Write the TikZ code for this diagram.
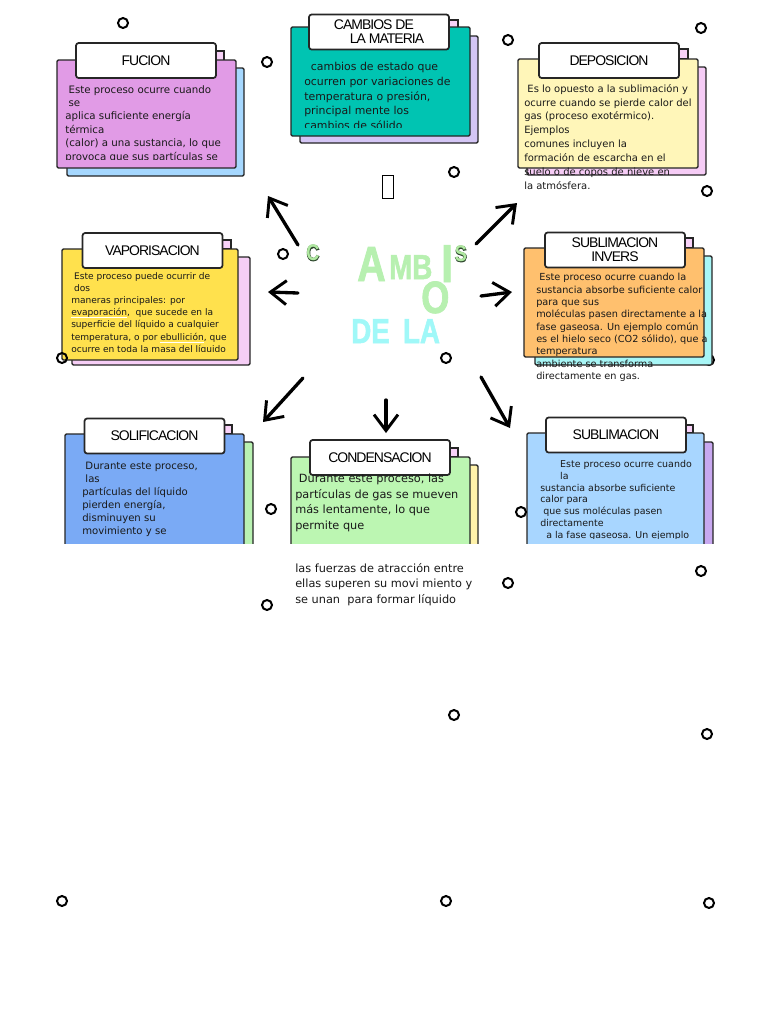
\documentclass[tikz,border=0pt]{standalone}
\usepackage{fontspec}
\usepackage{tikz}
\usetikzlibrary{arrows.meta}
\setmainfont{DejaVu Sans}
\newfontfamily\cardtitlefont{Liberation Sans}[LetterSpace=-7]
\newfontfamily\bigtitlefont{Liberation Sans Bold}[FakeStretch=0.8, FakeBold=1.5]
\newfontfamily\handfont{Liberation Sans Bold}[FakeStretch=0.8]
\newfontfamily\handedgefont{Liberation Sans Bold}[FakeStretch=0.8, FakeBold=4]
\newlength\pxu
\setlength\pxu{0.0264cm}
\newsavebox\ulbox
\newcommand\whiteul[1]{\sbox\ulbox{#1}\rlap{\textcolor{white}{\rule[-0.45ex]{\wd\ulbox}{0.5pt}}}\usebox\ulbox}
\definecolor{fucionpink}{RGB}{225, 155, 230}
\definecolor{fucionback}{RGB}{166, 216, 255}
\definecolor{cambiosteal}{RGB}{0, 196, 178}
\definecolor{cambiosback}{RGB}{212, 198, 245}
\definecolor{depoyellow}{RGB}{255, 246, 185}
\definecolor{depoback}{RGB}{246, 204, 246}
\definecolor{vaporyellow}{RGB}{255, 225, 77}
\definecolor{vaporback}{RGB}{246, 206, 246}
\definecolor{invorange}{RGB}{255, 192, 110}
\definecolor{invback}{RGB}{168, 246, 246}
\definecolor{solblue}{RGB}{122, 170, 245}
\definecolor{solback}{RGB}{185, 242, 178}
\definecolor{condgreen}{RGB}{188, 246, 178}
\definecolor{condback}{RGB}{255, 242, 170}
\definecolor{sublblue}{RGB}{168, 214, 255}
\definecolor{sublback}{RGB}{200, 168, 240}
\definecolor{tabpink}{RGB}{248, 210, 248}
\definecolor{titlegreen}{RGB}{183, 240, 176}
\definecolor{titlecyan}{RGB}{160, 248, 248}
\definecolor{handgreen}{RGB}{175, 232, 160}
\definecolor{handoutline}{RGB}{45, 70, 45}

\begin{document}
\begin{tikzpicture}[x=0.0264cm, y=-0.0264cm,
    sheet/.style={draw=black!85, line width=1.1pt, rounded corners=1pt},
    tabsheet/.style={draw=black!85, line width=0.8pt, fill=tabpink},
    titlebox/.style={draw=black!85, line width=1.3pt, fill=white, rounded corners=2pt, inner sep=0pt,
        minimum width=140\pxu, minimum height=35\pxu, align=center, font=\cardtitlefont\fontsize{10.5}{10.5}\selectfont},
    bodytext/.style={anchor=north west, inner sep=0pt, align=left, text=black!90},
    ring/.style={circle, draw=black, line width=1.5pt, minimum size=10\pxu, inner sep=0pt},
    bigarrow/.style={-{Straight Barb[length=12pt, width=18pt, line width=2.2pt]}, line width=2.5pt, line cap=round},
    bigletter/.style={anchor=base west, inner sep=0pt, text=titlegreen},
    handletter/.style={inner sep=0pt, text=handgreen, font=\handfont\fontsize{17}{17}\selectfont}
]
    \fill[white] (0,0) rectangle (768,1024);
    \useasboundingbox (0,0) rectangle (768,1024);

    % ring hidden behind a card
    \node[ring] (ring10) at (709,360) {};

    % Fucion
    \path[sheet, fill=fucionback] (67,68) rectangle (244,176);
    \path[tabsheet] (215,51) rectangle (224,61);
    \path[sheet, fill=fucionpink] (57,60) rectangle (236,168);
    \node[titlebox] (fuciontitle) at (146,60.5) {FUCION};
    \begin{scope}
        \clip (57,60) rectangle (236,159);
        \node[bodytext, font=\fontsize{7.7}{10.1}\selectfont] (fuciontext) at (65,85)
            {~Este proceso ocurre cuando\\~se\\aplica suficiente energía\\térmica\\(calor) a una sustancia, lo que\\provoca que sus partículas se};
    \end{scope}

    % Cambios de la materia
    \path[sheet, fill=cambiosback] (300,36) rectangle (478,143);
    \path[tabsheet] (448,20) rectangle (458,29);
    \path[sheet, fill=cambiosteal] (291,27) rectangle (470,136);
    \node[titlebox, align=left] (cambiostitle) at (379,32) {CAMBIOS DE\\\hspace*{12pt}LA MATERIA};
    \begin{scope}
        \clip (291,27) rectangle (470,127);
        \node[bodytext, font=\fontsize{8.2}{11.1}\selectfont] (cambiostext) at (304,62)
            {\hspace*{5pt}cambios de estado que\\ocurren por variaciones de\\temperatura o presión,\\principal mente los\\cambios de sólido};
    \end{scope}

    % Deposicion
    \path[sheet, fill=depoback] (527,67) rectangle (706,175);
    \path[tabsheet] (679,49) rectangle (688,59);
    \path[sheet, fill=depoyellow] (518,59) rectangle (698,168);
    \node[titlebox] (depotitle) at (609,60.5) {DEPOSICION};
    \node[bodytext, font=\fontsize{7.5}{10.4}\selectfont] (depotext) at (524,84)
        {~Es lo opuesto a la sublimación y\\ocurre cuando se pierde calor del\\gas (proceso exotérmico).\\Ejemplos\\comunes incluyen la\\formación de escarcha en el\\suelo o de copos de nieve en\\la atmósfera.};

    % Vaporisacion
    \path[sheet, fill=vaporback] (72,257) rectangle (250,365);
    \path[tabsheet] (222,240) rectangle (231,249);
    \path[sheet, fill=vaporyellow] (62,249) rectangle (238,360);
    \node[titlebox] (vaportitle) at (152.5,250.5) {VAPORISACION};
    \begin{scope}
        \clip (62,249) rectangle (238,351);
        \node[bodytext, font=\fontsize{6.8}{9.15}\selectfont] (vaportext) at (71,272)
            {~Este proceso puede ocurrir de\\~dos\\maneras principales: por\\\whiteul{evaporación},~ que sucede en la\\superficie del líquido a cualquier\\temperatura, o por \whiteul{ebullición}, que\\ocurre en toda la masa del líquido};
    \end{scope}

    % Sublimacion invers
    \path[sheet, fill=invback] (535,256) rectangle (712,365);
    \path[tabsheet] (684,238) rectangle (693,248);
    \path[sheet, fill=invorange] (524,248) rectangle (704,357);
    \node[titlebox, align=center] (invtitle) at (615,250) {SUBLIMACION\\INVERS};
    \node[bodytext, font=\fontsize{7.3}{9.3}\selectfont] (invtext) at (536,273)
        {~Este proceso ocurre cuando la\\sustancia absorbe suficiente calor\\para que sus\\moléculas pasen directamente a la\\fase gaseosa. Un ejemplo común\\es el hielo seco (CO2 sólido), que a\\temperatura\\ambiente se transforma\\directamente en gas.};

    % lower row, cut off at the fold
    \begin{scope}
        \clip (0,0) rectangle (768,543);

        % Solificacion
        \path[sheet, fill=solback] (74,442) rectangle (253,620);
        \path[tabsheet] (223,425) rectangle (232,434);
        \path[sheet, fill=solblue] (65,434) rectangle (244,610);
        \node[titlebox] (soltitle) at (154.5,436) {SOLIFICACION};
        \node[bodytext, font=\fontsize{7.6}{9.8}\selectfont] (soltext) at (82,462)
            {~Durante este proceso,\\~las\\partículas del líquido\\pierden energía,\\disminuyen su\\movimiento y se};

        % Condensacion
        \path[sheet, fill=condback] (300,465) rectangle (478,620);
        \path[tabsheet] (449,448) rectangle (458,457);
        \path[sheet, fill=condgreen] (291,457) rectangle (470,610);
        \node[titlebox] (condtitle) at (380,457.5) {CONDENSACION};
        \node[bodytext, font=\fontsize{8.5}{11.6}\selectfont] (condtext) at (295,474)
            {~Durante este proceso, las\\partículas de gas se mueven\\más lentamente, lo que\\permite que};

        % Sublimacion
        \path[sheet, fill=sublback] (536,442) rectangle (713,620);
        \path[tabsheet] (684,425) rectangle (693,433);
        \path[sheet, fill=sublblue] (527,433) rectangle (704,610);
        \node[titlebox] (subltitle) at (616,435) {SUBLIMACION};
        \begin{scope}
            \clip (527,433) rectangle (704,538);
            \node[bodytext, font=\fontsize{7.1}{8.85}\selectfont] (subltext) at (540,460)
                {\hspace*{15pt}Este proceso ocurre cuando\\\hspace*{15pt}la\\sustancia absorbe suficiente\\calor para\\~que sus moléculas pasen\\directamente\\~~a la fase gaseosa. Un ejemplo};
        \end{scope}
    \end{scope}

    \node[bodytext, font=\fontsize{8.5}{11.6}\selectfont] (condmore) at (295,563)
        {las fuerzas de atracción entre\\ellas superen su movi miento y\\se unan~ para formar líquido};

    % Center title
    \node[bigletter, font=\bigtitlefont\fontsize{37}{37}\selectfont] (letterA) at (357,281) {A};
    \node[bigletter, font=\bigtitlefont\fontsize{26}{26}\selectfont] (letterMB) at (389,279) {MB};
    \node[bigletter, font=\bigtitlefont\fontsize{40}{40}\selectfont] (letterI) at (441,282) {I};
    \node[bigletter, font=\bigtitlefont\fontsize{34}{34}\selectfont] (letterO) at (421,313) {O};
    \node[bigletter, text=titlecyan, font=\bigtitlefont\fontsize{26}{26}\selectfont] (delaword) at (351,343) {DE\hspace{10pt}LA};
    \node[handletter, text=handoutline, font=\handedgefont\fontsize{17}{17}\selectfont] (letterCedge) at (313,253) {C};
    \node[handletter] (letterC) at (313,253) {C};
    \node[handletter, text=handoutline, font=\handedgefont\fontsize{17}{17}\selectfont] (letterSedge) at (461,254) {S};
    \node[handletter] (letterS) at (461,254) {S};
    \node[draw=black, line width=0.9pt, minimum width=11\pxu, minimum height=23\pxu, inner sep=0pt] (missingglyph) at (388,187) {};

    % Arrows out to the cards
    \coordinate (nwstart) at (298,245);  \coordinate (nwend) at (268,196);
    \coordinate (wstart) at (298,293);   \coordinate (wend) at (268,292);
    \coordinate (swstart) at (303,378);  \coordinate (swend) at (263,422);
    \coordinate (sstart) at (386,400);   \coordinate (send) at (386,433);
    \coordinate (sestart) at (481,377);  \coordinate (seend) at (510,428);
    \coordinate (estart) at (481,296);   \coordinate (eend) at (512,292);
    \coordinate (nestart) at (476,244);  \coordinate (neend) at (517,203);
    \draw[bigarrow] (nwstart) -- (nwend);
    \draw[bigarrow] (wstart) -- (wend);
    \draw[bigarrow] (swstart) -- (swend);
    \draw[bigarrow] (sstart) -- (send);
    \draw[bigarrow] (sestart) -- (seend);
    \draw[bigarrow] (estart) -- (eend);
    \draw[bigarrow] (nestart) -- (neend);

    % Rings
    \node[ring] (ring1) at (123,23) {};
    \node[ring] (ring2) at (267,62) {};
    \node[ring] (ring3) at (508,40) {};
    \node[ring] (ring4) at (701,28) {};
    \node[ring] (ring5) at (454,172) {};
    \node[ring] (ring6) at (707,191) {};
    \node[ring] (ring7) at (283,254) {};
    \node[ring] (ring8) at (62,358) {};
    \node[ring] (ring9) at (446,358) {};
    \node[ring] (ring11) at (271,509) {};
    \node[ring] (ring12) at (521,512) {};
    \node[ring] (ring13) at (267,605) {};
    \node[ring] (ring14) at (508,583) {};
    \node[ring] (ring15) at (701,571) {};
    \node[ring] (ring16) at (454,715) {};
    \node[ring] (ring17) at (707,734) {};
    \node[ring] (ring18) at (62,901) {};
    \node[ring] (ring19) at (446,901) {};
    \node[ring] (ring20) at (709,903) {};
\end{tikzpicture}
\end{document}
